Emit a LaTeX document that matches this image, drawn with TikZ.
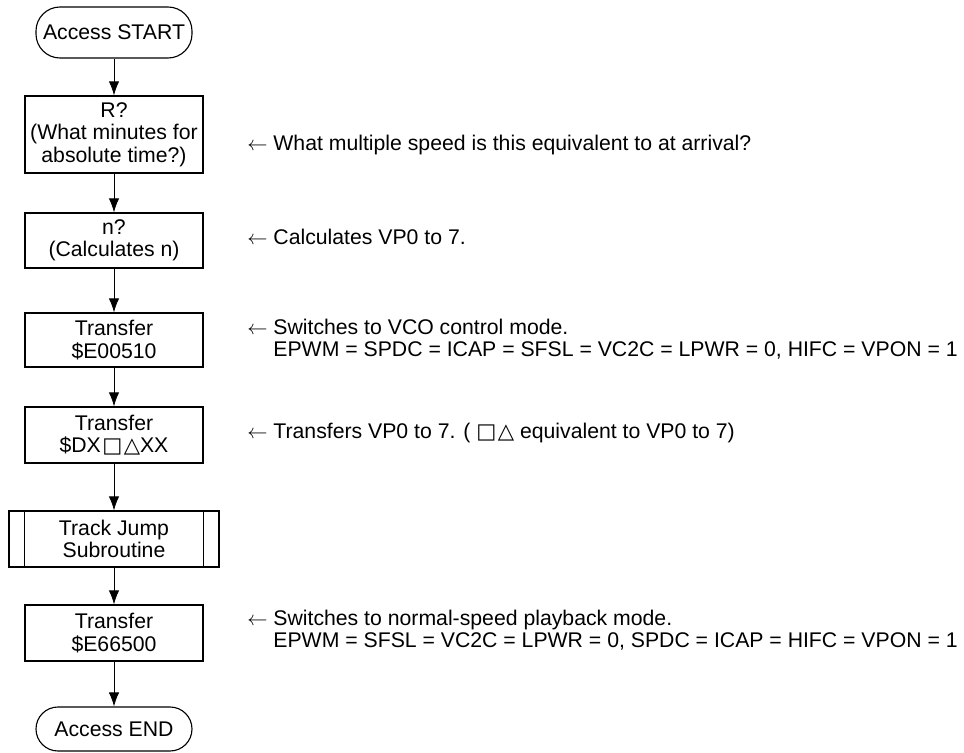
\documentclass[tikz,border=0pt]{standalone}
\usepackage{fontspec}
\setmainfont{Liberation Sans}
\newfontfamily\symfont{DejaVu Sans}
\usetikzlibrary{arrows.meta,positioning}

\begin{document}
\begin{tikzpicture}[>={Latex[length=0.35cm,width=0.26cm]},
        font=\fontsize{15.1}{16}\selectfont,
        flowbox/.style={draw,line width=0.9pt,align=center,minimum width=4.45cm,
                        inner sep=0pt},
        termbox/.style={draw,line width=0.8pt,rounded corners=0.6cm,align=center,
                        minimum width=3.9cm,inner sep=0pt},
        subbox/.style={draw,line width=0.9pt,align=center,minimum width=5.25cm,
                       minimum height=1.4cm,inner sep=0pt},
        note/.style={anchor=west,align=left,inner sep=0pt}]
        \useasboundingbox (0,0) rectangle (24.1,-18.825);

        \node[termbox,minimum height=1.275cm] (start) at (2.85,-0.8125) {Access START};
        \node[flowbox,minimum height=1.925cm] (rq) at (2.85,-3.3625)
            {R?\\(What minutes for\\absolute time?)};
        \node[flowbox,minimum height=1.375cm] (nq) at (2.85,-6.0125) {n?\\(Calculates n)};
        \node[flowbox,minimum height=1.35cm] (vco) at (2.85,-8.5) {Transfer\\\$E00510};
        \node[flowbox,minimum height=1.4cm] (vp) at (2.85,-10.875)
            {Transfer\\\$DX{\symfont\kern1pt□\kern1pt△}XX};
        \node[subbox] (jump) at (2.85,-13.475) {Track Jump\\Subroutine};
        \draw[line width=0.9pt] ([xshift=0.4cm]jump.north west) -- ([xshift=0.4cm]jump.south west);
        \draw[line width=0.9pt] ([xshift=-0.4cm]jump.north east) -- ([xshift=-0.4cm]jump.south east);
        \node[flowbox,minimum height=1.4cm] (play) at (2.85,-15.825) {Transfer\\\$E66500};
        \node[termbox,minimum height=1.1cm,rounded corners=0.55cm] (finish) at (2.85,-18.225) {Access END};

        \draw[->,line width=0.6pt] (start) -- (rq);
        \draw[->,line width=0.6pt] (rq) -- (nq);
        \draw[->,line width=0.6pt] (nq) -- (vco);
        \draw[->,line width=0.6pt] (vco) -- (vp);
        \draw[->,line width=0.6pt] (vp) -- (jump);
        \draw[->,line width=0.6pt] (jump) -- (play);
        \draw[->,line width=0.6pt] (play) -- (finish);

        % notes on the right
        \node[note] (rnote) at (6.175,-3.625) {$\leftarrow$ What multiple speed is this equivalent to at arrival?};
        \node[note] (nnote) at (6.175,-5.925) {$\leftarrow$ Calculates VP0 to 7.};
        \node[note] (vconote) at (6.175,-8.475)
            {$\leftarrow$ Switches to VCO control mode.\\
             \phantom{$\leftarrow$ }EPWM = SPDC = ICAP = SFSL = VC2C = LPWR = 0, HIFC = VPON = 1};
        \node[note] (vpnote) at (6.175,-10.825)
            {$\leftarrow$ Transfers VP0 to 7. ( {\symfont□\kern1pt△} equivalent to VP0 to 7)};
        \node[note] (playnote) at (6.175,-15.75)
            {$\leftarrow$ Switches to normal-speed playback mode.\\
             \phantom{$\leftarrow$ }EPWM = SFSL = VC2C = LPWR = 0, SPDC = ICAP = HIFC = VPON = 1};
    \end{tikzpicture}
\end{document}
